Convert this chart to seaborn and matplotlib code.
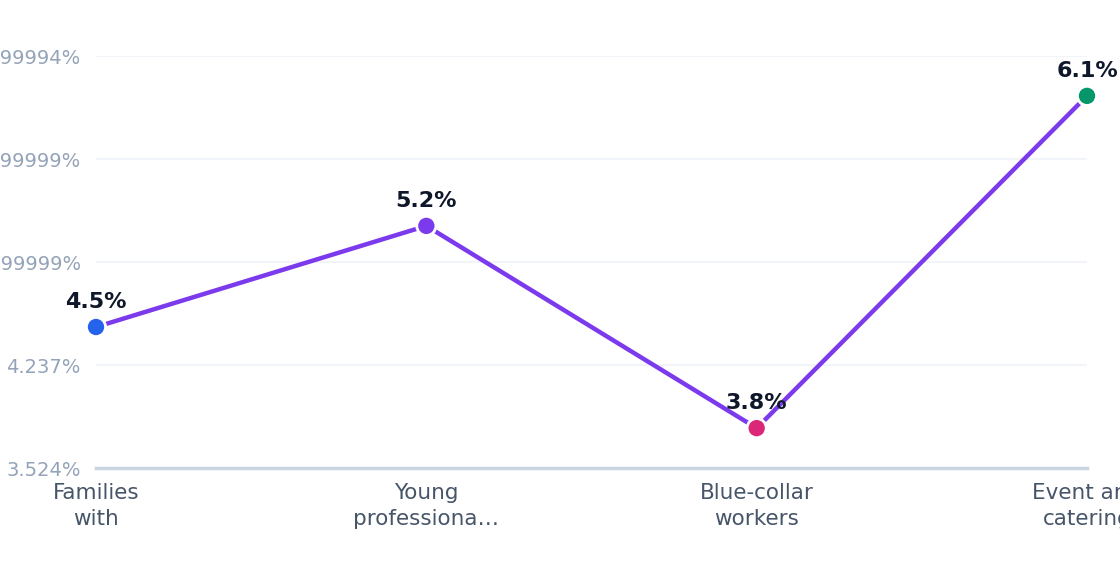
import pandas as pd
import numpy as np

import matplotlib
matplotlib.use("Agg")
import matplotlib.pyplot as plt
import seaborn as sns

sns.set_style("white")
plt.rcParams["font.family"] = ["DejaVu Sans"]

# ======================================================
# Data
# ======================================================

segments = [
    "Families\nwith",
    "Young\nprofessiona\u2026",
    "Blue-collar\nworkers",
    "Event and\ncatering",
]
rates = [4.5, 5.2, 3.8, 6.1]
point_colors = ["#2563eb", "#7c3aed", "#db2777", "#059669"]

y_ticks = [3.524, 4.237, 4.95, 5.663, 6.376]
y_tick_labels = [
    "3.524%",
    "4.237%",
    "4.9499999999999%",
    "5.6629999999999%",
    "6.3759999999994%",
]

df = pd.DataFrame({"pos": range(len(segments)), "rate": rates, "segment": segments})

# ======================================================
# Plot
# ======================================================

fig = plt.figure(figsize=(11.2, 5.72), dpi=100)
ax = fig.add_axes([96 / 1120, 104 / 572, (1087 - 96) / 1120, (468 - 56) / 572])

sns.lineplot(data=df, x="pos", y="rate", color="#7c3aed", linewidth=3.2, ax=ax, zorder=2)

sns.scatterplot(
    data=df,
    x="pos",
    y="rate",
    hue="segment",
    palette=point_colors,
    s=190,
    edgecolor="white",
    linewidth=2,
    legend=False,
    ax=ax,
    zorder=3,
    clip_on=False,
)

for x, y in zip(df["pos"], df["rate"]):
    ax.annotate(
        f"{y:.1f}%",
        (x, y),
        xytext=(0, 11),
        textcoords="offset points",
        ha="center",
        va="bottom",
        fontsize=16,
        fontweight="bold",
        color="#0f172a",
        annotation_clip=False,
    )

ax.set_xlim(0, len(segments) - 1)
ax.set_ylim(y_ticks[0], y_ticks[-1])

ax.set_xticks(df["pos"])
ax.set_xticklabels(segments, fontsize=15.5, color="#475569", linespacing=1.35)
ax.set_yticks(y_ticks)
ax.set_yticklabels(y_tick_labels, fontsize=14, color="#94a3b8")
ax.tick_params(axis="both", length=0)
ax.tick_params(axis="x", pad=11)
ax.tick_params(axis="y", pad=11)

ax.grid(axis="y", color="#f1f5f9", linewidth=1.5)
ax.set_axisbelow(True)

for side in ["top", "right", "left"]:
    ax.spines[side].set_visible(False)
ax.spines["bottom"].set_color("#cbd5e1")
ax.spines["bottom"].set_linewidth(2.5)

ax.set_xlabel("")
ax.set_ylabel("")

plt.savefig("out.png", dpi=100)
